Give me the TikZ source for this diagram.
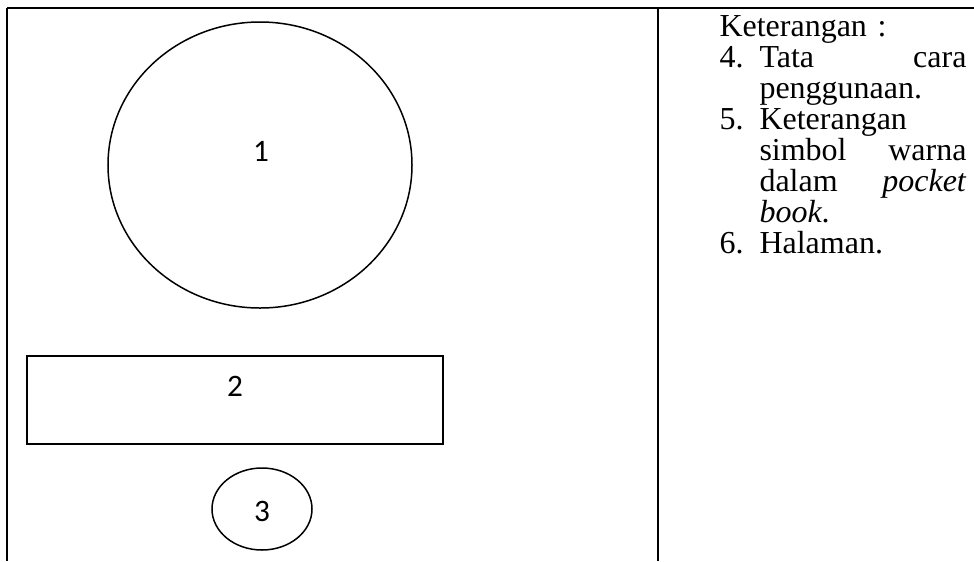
\documentclass[tikz,border=0pt]{standalone}
\usepackage{fontspec}
\setmainfont{Liberation Serif}
\newfontfamily\calibri{Carlito}
\usetikzlibrary{shapes.geometric}
\tikzset{
  frame/.style={line width=0.9pt},
  oval/.style={draw, ellipse, line width=0.6pt, inner sep=0pt},
  panel/.style={draw, rectangle, line width=0.6pt, inner sep=0pt},
  num/.style={font=\calibri\fontsize{12.5}{14}\selectfont, inner sep=0pt},
  note/.style={font=\fontsize{12.8}{12.4}\selectfont, text width=98.8pt, align=left, inner sep=0pt}
}
\newcommand{\nomor}[1]{\makebox[16pt][l]{#1}}

\begin{document}
\begin{tikzpicture}[x=0.4pt, y=-0.4pt]
  \useasboundingbox (0,0) rectangle (974,561);
  % table rules
  \draw[frame] (7,8) -- (974,8);
  \draw[frame] (7,8) -- (7,561);
  \draw[frame] (658,8) -- (658,561);

  % left cell: page sketch
  \node[oval, minimum width=121.6pt, minimum height=114.4pt] (lingkar) at (260,165) {};
  \node[num] (n1) at (261,151) {1};
  \node[panel, minimum width=166.4pt, minimum height=35.2pt] (kotak) at (235,400) {};
  \node[num] (n2) at (235,386) {2};
  \node[oval, minimum width=40pt, minimum height=32.8pt] (bulat) at (262,509) {};
  \node[num] (n3) at (262,511) {3};

  % right cell: legend
  \node[note, anchor=base west] (ket) at (719,36) {%
    Keterangan :\\
    \nomor{4.}Tata\hfill cara\\
    \nomor{}penggunaan.\\
    \nomor{5.}Keterangan\\
    \nomor{}simbol\hfill warna\\
    \nomor{}dalam\hfill \textit{pocket}\\
    \nomor{}\textit{book}.\\
    \nomor{6.}Halaman.};
\end{tikzpicture}
\end{document}
